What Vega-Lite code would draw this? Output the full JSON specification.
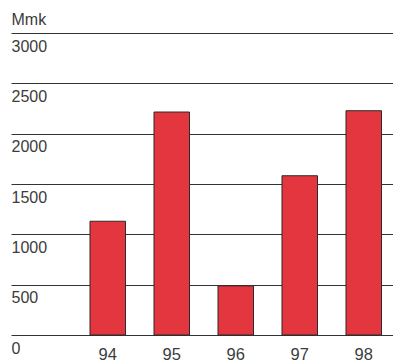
{
  "$schema": "https://vega.github.io/schema/vega-lite/v6.json",
  "autosize": "none",
  "width": 382,
  "height": 302,
  "padding": {"left": 11, "top": 33, "right": 0, "bottom": 27},
  "background": "white",
  "config": {
    "view": {"stroke": null},
    "font": "Liberation Sans"
  },
  "data": {
    "values": [
      {"year": "94", "value": 1130},
      {"year": "95", "value": 2215},
      {"year": "96", "value": 488},
      {"year": "97", "value": 1582},
      {"year": "98", "value": 2228}
    ]
  },
  "mark": {"type": "bar", "fill": "#e3363f", "stroke": "#2b2b2b", "strokeWidth": 1},
  "encoding": {
    "x": {
      "field": "year",
      "type": "ordinal",
      "scale": {"paddingInner": 0.445, "paddingOuter": 0.707, "align": 0.873},
      "axis": {
        "title": null,
        "domain": false,
        "ticks": false,
        "tickSize": 0,
        "labelAngle": 0,
        "labelFontSize": 16.5,
        "labelColor": "#3c3c3c",
        "labelBaseline": "top",
        "labelPadding": 11
      }
    },
    "y": {
      "field": "value",
      "type": "quantitative",
      "scale": {"domain": [0, 3000], "nice": false},
      "axis": {
        "values": [0, 500, 1000, 1500, 2000, 2500, 3000],
        "format": "d",
        "title": "Mmk",
        "titleAngle": 0,
        "titleAlign": "left",
        "titleBaseline": "alphabetic",
        "titleX": 0,
        "titleY": -9,
        "titleFontSize": 16,
        "titleFontWeight": "normal",
        "titleColor": "#3c3c3c",
        "domain": false,
        "ticks": false,
        "tickSize": 0,
        "grid": true,
        "gridColor": "#333333",
        "gridWidth": 1,
        "labelAlign": "left",
        "labelBaseline": "top",
        "labelPadding": 0,
        "labelOffset": 5,
        "labelFontSize": 16,
        "labelColor": "#3c3c3c"
      }
    }
  }
}
